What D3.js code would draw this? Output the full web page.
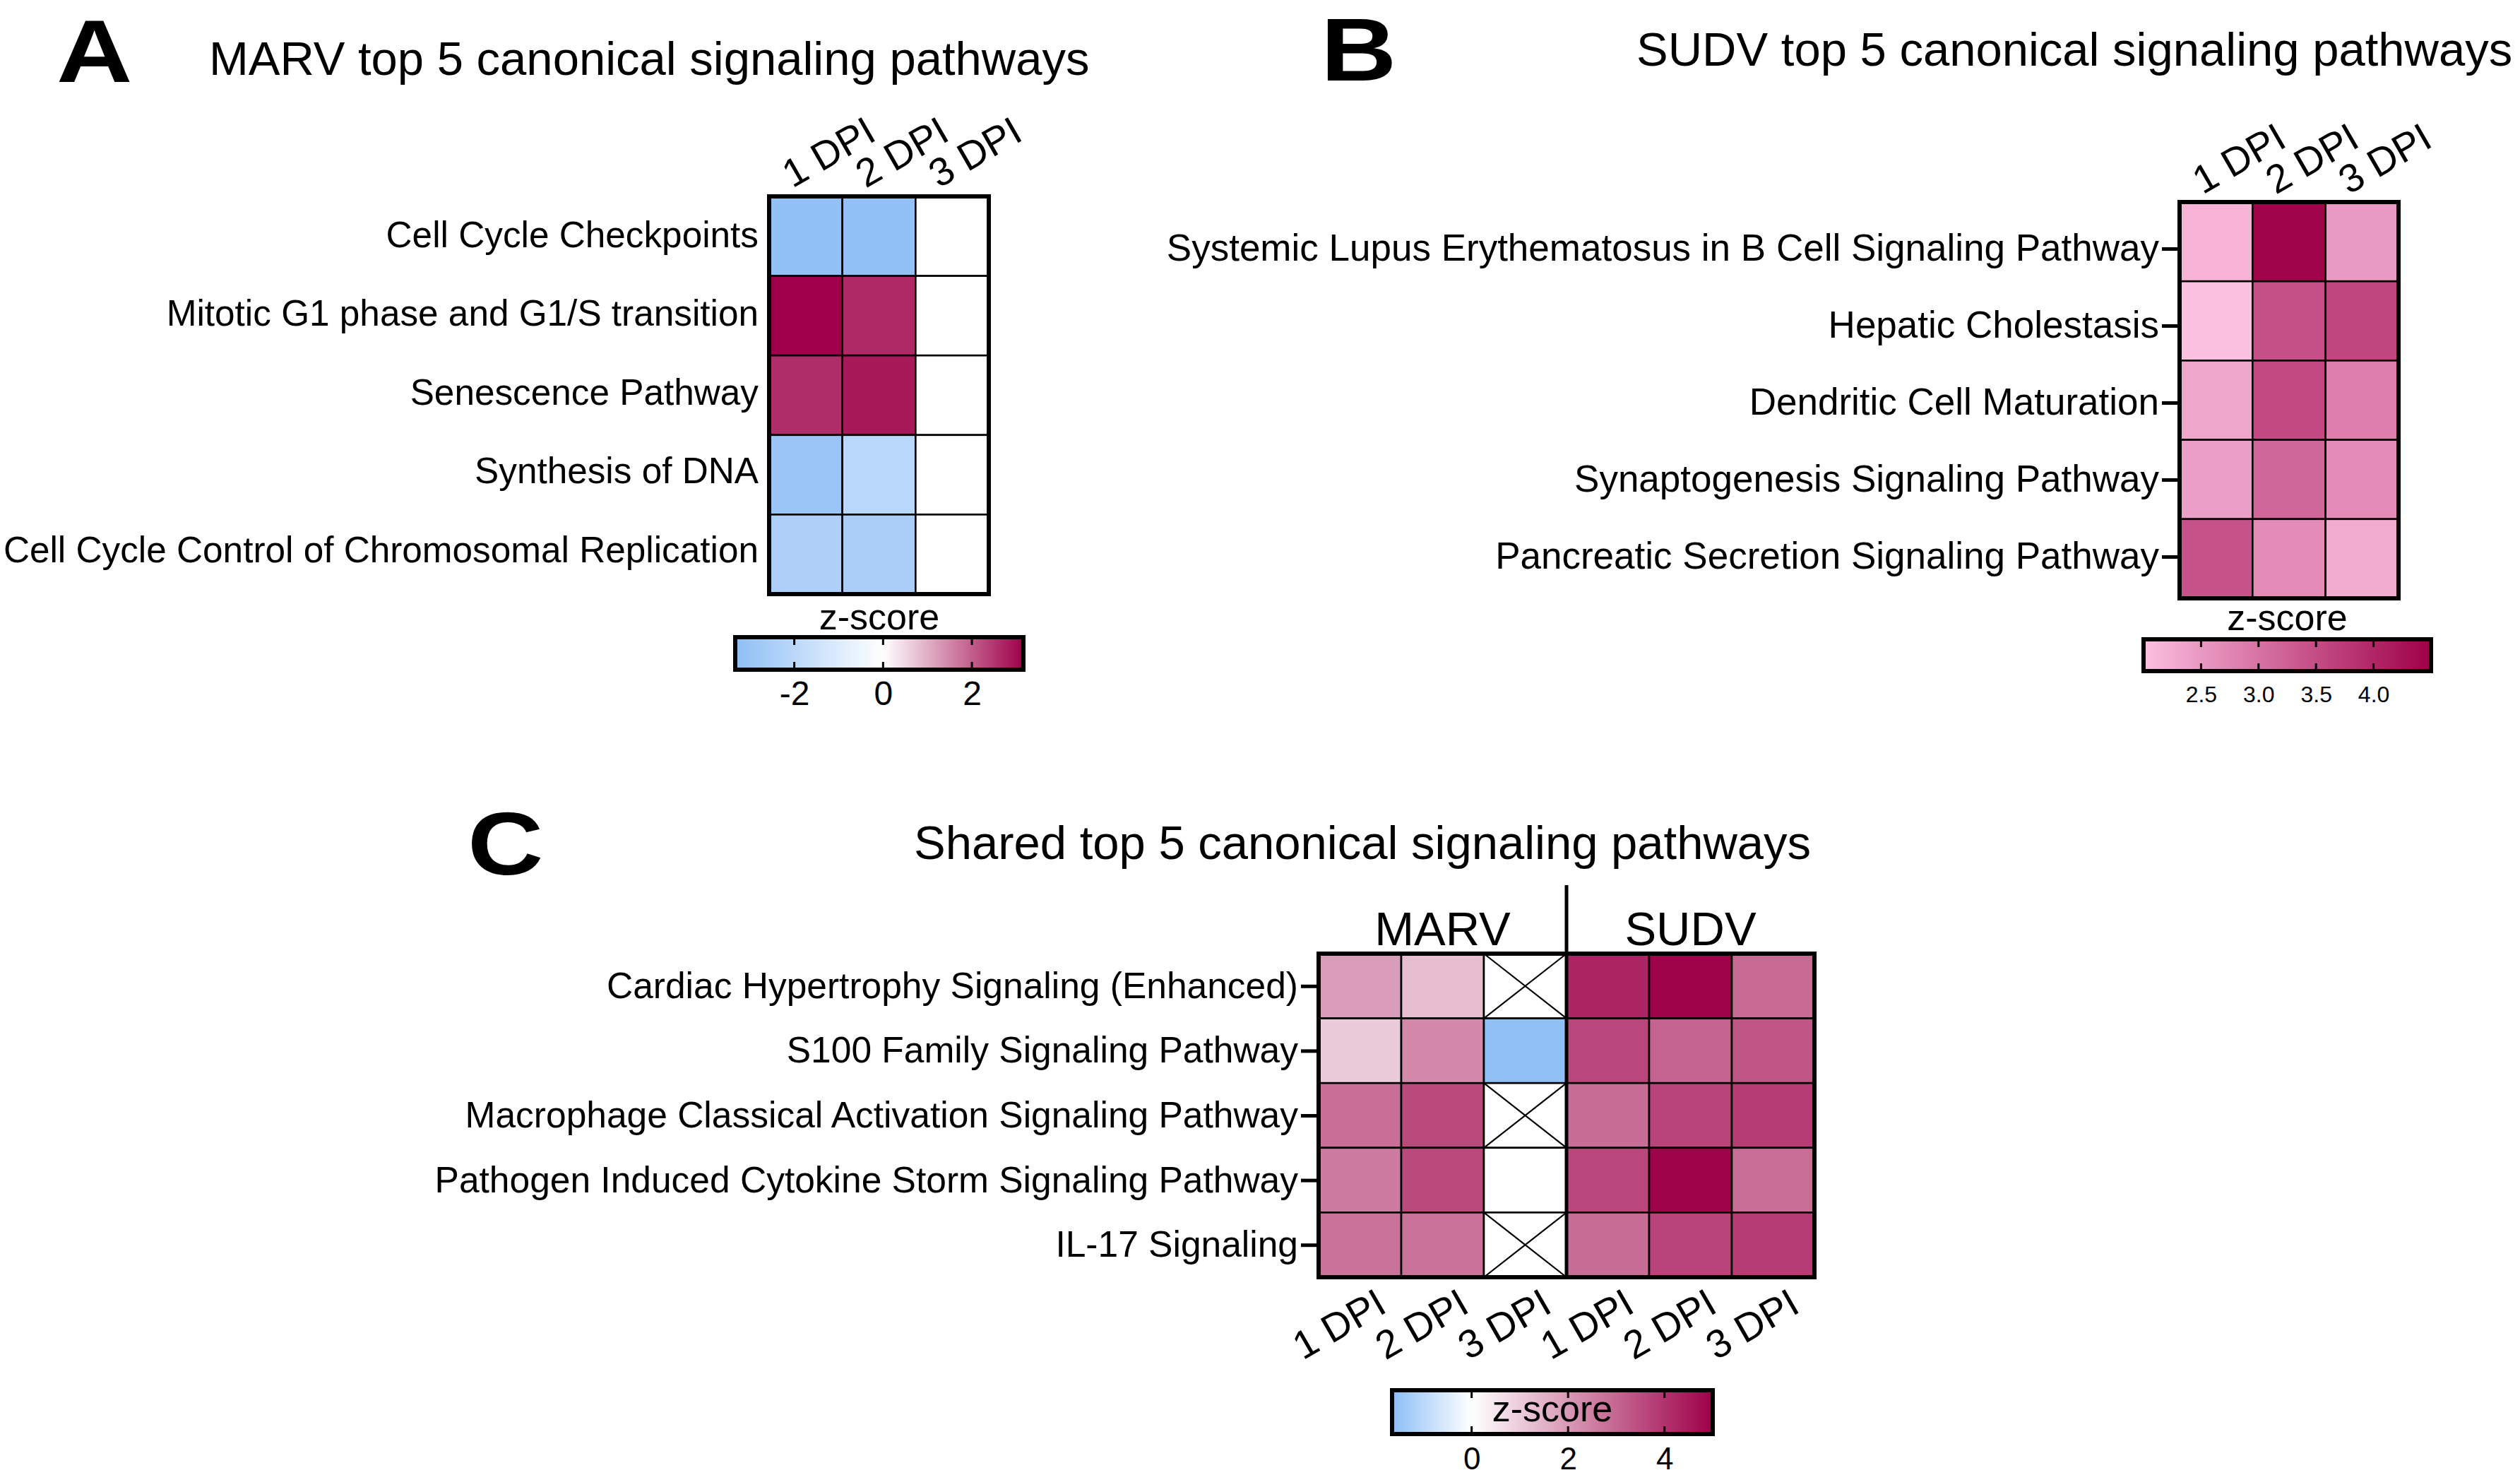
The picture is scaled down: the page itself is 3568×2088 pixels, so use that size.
<!DOCTYPE html>
<html lang="en">
<head>
<meta charset="UTF-8">
<title>Top 5 canonical signaling pathways</title>
<script src="https://d3js.org/d3.v7.min.js"></script>
<style>
  body { margin: 0; background: #fff; }
  svg { display: block; }
</style>
</head>
<body>
<svg id="fig" width="3568" height="2088"></svg>
<script>
// ---- data ----
const dpiLabels = ["1 DPI", "2 DPI", "3 DPI"];

// A: MARV
const marvPathways = ["Cell Cycle Checkpoints", "Mitotic G1 phase and G1/S transition", "Senescence Pathway",
  "Synthesis of DNA", "Cell Cycle Control of Chromosomal Replication"];
const marvDpi1 = [-3.2, 3.15, 2.6, -2.95, -2.4];
const marvDpi2 = [-3.2, 2.65, 2.85, -2.05, -2.5];
const marvDpi3 = [0, 0, 0, 0, 0];
const marvTicks = [-2, 0, 2];
const marvRange = [-3.33, 3.16];

// B: SUDV
const sudvPathways = ["Systemic Lupus Erythematosus in B Cell Signaling Pathway", "Hepatic Cholestasis",
  "Dendritic Cell Maturation", "Synaptogenesis Signaling Pathway", "Pancreatic Secretion Signaling Pathway"];
const sudvDpi1 = [2.17, 2.0, 2.34, 2.43, 3.43];
const sudvDpi2 = [4.45, 3.46, 3.55, 3.16, 2.68];
const sudvDpi3 = [2.5, 3.59, 2.85, 2.68, 2.26];
const sudvTicks = [2.5, 3.0, 3.5, 4.0];
const sudvRange = [2.0, 4.5];

// C: shared (null = not detected, drawn with a cross)
const sharedPathways = ["Cardiac Hypertrophy Signaling (Enhanced)", "S100 Family Signaling Pathway",
  "Macrophage Classical Activation Signaling Pathway", "Pathogen Induced Cytokine Storm Signaling Pathway",
  "IL-17 Signaling"];
const sharedGroups = ["MARV", "SUDV"];
const sharedMarv1 = [1.92, 1.04, 2.84, 2.59, 2.75];
const sharedMarv2 = [1.31, 2.31, 3.57, 3.57, 2.75];
const sharedMarv3 = [null, -1.6, null, 0, null];
const sharedSudv1 = [4.29, 3.61, 2.86, 3.61, 2.86];
const sharedSudv2 = [4.95, 3.06, 3.67, 4.95, 3.67];
const sharedSudv3 = [2.9, 3.31, 3.8, 2.84, 3.8];
const sharedTicks = [0, 2, 4];
const sharedRange = [-1.65, 5.0];

// ---- drawing ----
const FONT = 'Arial, "Liberation Sans", sans-serif';
const svg = d3.select("#fig");
const defs = svg.append("defs");

const blue = "#8ebef5", deep = "#9e0048";
const colorA = d3.scaleLinear().domain([marvRange[0], 0, marvRange[1]]).range([blue, "#ffffff", deep]);
const colorB = d3.scaleLinear().domain(sudvRange).range(["#fcc0e0", deep]);
const colorC = d3.scaleLinear().domain([sharedRange[0], 0, sharedRange[1]]).range([blue, "#ffffff", deep]);

function label(txt, x, y, size, opts = {}) {
  return svg.append("text").attr("x", x).attr("y", y).text(txt)
    .attr("font-family", FONT).attr("font-size", size)
    .attr("font-weight", opts.bold ? "bold" : "normal")
    .attr("text-anchor", opts.anchor || "start");
}

// heavy panel letter, a bit wider than Arial Bold
function panelLetter(txt, x, y) {
  svg.append("text").attr("transform", `translate(${x},${y}) scale(1.18,1)`).text(txt)
    .attr("font-family", FONT).attr("font-size", 126).attr("font-weight", "bold");
}

function heatmap(cfg) {
  const g = svg.append("g");
  const cols = cfg.series.map((s, i) => i);
  const x = d3.scaleBand().domain(cols).range([cfg.x0, cfg.x0 + cfg.w]);
  const y = d3.scaleBand().domain(cfg.rows).range([cfg.y0, cfg.y0 + cfg.h]);

  const cells = [];
  cfg.series.forEach((s, ci) => s.forEach((v, ri) => cells.push({ ci, row: cfg.rows[ri], v })));

  g.selectAll("rect.cell").data(cells).join("rect").attr("class", "cell")
    .attr("x", d => x(d.ci)).attr("y", d => y(d.row))
    .attr("width", x.bandwidth()).attr("height", y.bandwidth())
    .attr("fill", d => d.v == null ? "#ffffff" : cfg.color(d.v))
    .attr("stroke", "#000").attr("stroke-width", 2.6);

  g.selectAll("path.na").data(cells.filter(d => d.v == null)).join("path").attr("class", "na")
    .attr("d", d => {
      const a = x(d.ci), b = y(d.row), w = x.bandwidth(), h = y.bandwidth();
      return `M${a},${b}L${a + w},${b + h}M${a + w},${b}L${a},${b + h}`;
    })
    .attr("stroke", "#000").attr("stroke-width", 2.2).attr("fill", "none");

  g.append("rect").attr("x", cfg.x0).attr("y", cfg.y0).attr("width", cfg.w).attr("height", cfg.h)
    .attr("fill", "none").attr("stroke", "#000").attr("stroke-width", 6);

  // row labels (label axis may sit slightly inside the cell band, as in the original)
  const ry = cfg.labelRange
    ? d3.scalePoint().domain(cfg.rows).range(cfg.labelRange)
    : d3.scalePoint().domain(cfg.rows).range([cfg.y0, cfg.y0 + cfg.h]).padding(0.5);
  const ya = g.append("g").attr("transform", `translate(${cfg.x0 - 3},0)`)
    .call(d3.axisLeft(ry).tickSize(cfg.rowTick).tickPadding(cfg.rowPad));
  ya.select(".domain").remove();
  ya.attr("font-size", cfg.rowFs).attr("font-family", FONT);
  ya.selectAll(".tick line").attr("stroke-width", 5).attr("stroke", "#000");
  ya.selectAll(".tick text").attr("fill", "#000");

  // column labels, rotated
  const top = cfg.colPos === "top";
  const axis = (top ? d3.axisTop(x) : d3.axisBottom(x)).tickSize(0).tickFormat(i => cfg.cols[i]);
  const xa = g.append("g").attr("transform", `translate(0,${top ? cfg.y0 : cfg.y0 + cfg.h})`).call(axis);
  xa.select(".domain").remove();
  xa.attr("font-size", 56).attr("font-family", FONT);
  xa.selectAll(".tick text").attr("fill", "#000").attr("x", 0).attr("y", 0).attr("dy", "0.35em")
    .attr("text-anchor", "middle")
    .attr("transform", `translate(${cfg.colOff[0]},${cfg.colOff[1]}) rotate(-30)`);
  return { g, x, y };
}

function colorbar(cfg) {
  const s = d3.scaleLinear().domain(cfg.range).range([cfg.x0, cfg.x1]);
  const grad = defs.append("linearGradient").attr("id", cfg.id)
    .attr("x1", "0%").attr("x2", "100%").attr("y1", "0%").attr("y2", "0%");
  d3.range(0, 1.0001, 0.02).forEach(t => {
    grad.append("stop").attr("offset", t)
      .attr("stop-color", cfg.color(cfg.range[0] + t * (cfg.range[1] - cfg.range[0])));
  });
  const g = svg.append("g");
  g.append("rect").attr("x", cfg.x0).attr("y", cfg.y0).attr("width", cfg.x1 - cfg.x0).attr("height", cfg.h)
    .attr("fill", `url(#${cfg.id})`).attr("stroke", "#000").attr("stroke-width", 6);
  g.selectAll("line.tk").data(cfg.ticks).join("path").attr("class", "tk")
    .attr("d", d => `M${s(d)},${cfg.y0}v11M${s(d)},${cfg.y0 + cfg.h}v-11`)
    .attr("stroke", "#000").attr("stroke-width", 3);
  const xa = g.append("g").attr("transform", `translate(0,${cfg.y0 + cfg.h})`)
    .call(d3.axisBottom(s).tickValues(cfg.ticks).tickSize(0).tickPadding(cfg.pad).tickFormat(cfg.fmt));
  xa.select(".domain").remove();
  xa.attr("font-size", cfg.fs).attr("font-family", FONT);
  xa.selectAll(".tick text").attr("fill", "#000");
  label("z-score", (cfg.x0 + cfg.x1) / 2, cfg.labelY, 52, { anchor: "middle" });
}

// ---- panel A ----
panelLetter("A", 80, 116);
label("MARV top 5 canonical signaling pathways", 296, 106, 67);
heatmap({
  rows: marvPathways, cols: dpiLabels, series: [marvDpi1, marvDpi2, marvDpi3], color: colorA,
  x0: 1089, y0: 278, w: 311, h: 563, rowTick: 0, rowPad: 12, rowFs: 51.3, labelRange: [333, 779],
  colPos: "top", colOff: [32, -63]
});
colorbar({ id: "gA", range: marvRange, ticks: marvTicks, color: colorA, x0: 1041, x1: 1449, y0: 902, h: 46,
  pad: 16, fs: 48, fmt: d => String(d), labelY: 891 });

// ---- panel B ----
panelLetter("B", 1870, 114);
label("SUDV top 5 canonical signaling pathways", 2317, 93, 67);
heatmap({
  rows: sudvPathways, cols: dpiLabels, series: [sudvDpi1, sudvDpi2, sudvDpi3], color: colorB,
  x0: 3086, y0: 286, w: 310, h: 561, rowTick: 22, rowPad: 4, rowFs: 53, labelRange: [352, 788],
  colPos: "top", colOff: [32, -62]
});
colorbar({ id: "gB", range: sudvRange, ticks: sudvTicks, color: colorB, x0: 3035, x1: 3442, y0: 905, h: 45,
  pad: 21, fs: 32, fmt: d3.format(".1f"), labelY: 892 });

// ---- panel C ----
panelLetter("C", 662, 1238);
label("Shared top 5 canonical signaling pathways", 1294, 1216, 67);
const hc = heatmap({
  rows: sharedPathways, cols: dpiLabels.concat(dpiLabels),
  series: [sharedMarv1, sharedMarv2, sharedMarv3, sharedSudv1, sharedSudv2, sharedSudv3], color: colorC,
  x0: 1867, y0: 1350, w: 702, h: 458, rowTick: 22, rowPad: 4, rowFs: 51.5,
  colPos: "bottom", colOff: [-30, 66]
});
const splitX = hc.x(3);
svg.append("line").attr("x1", splitX).attr("x2", splitX).attr("y1", 1253).attr("y2", 1808)
  .attr("stroke", "#000").attr("stroke-width", 5);
sharedGroups.forEach((name, i) => {
  const cx = (hc.x(i * 3) + hc.x(i * 3 + 2) + hc.x.bandwidth()) / 2;
  label(name, cx, 1338, 67, { anchor: "middle" });
});
colorbar({ id: "gC", range: sharedRange, ticks: sharedTicks, color: colorC, x0: 1971, x1: 2425, y0: 1968, h: 62,
  pad: 19, fs: 44, fmt: d => String(d), labelY: 2012 });
</script>
</body>
</html>
